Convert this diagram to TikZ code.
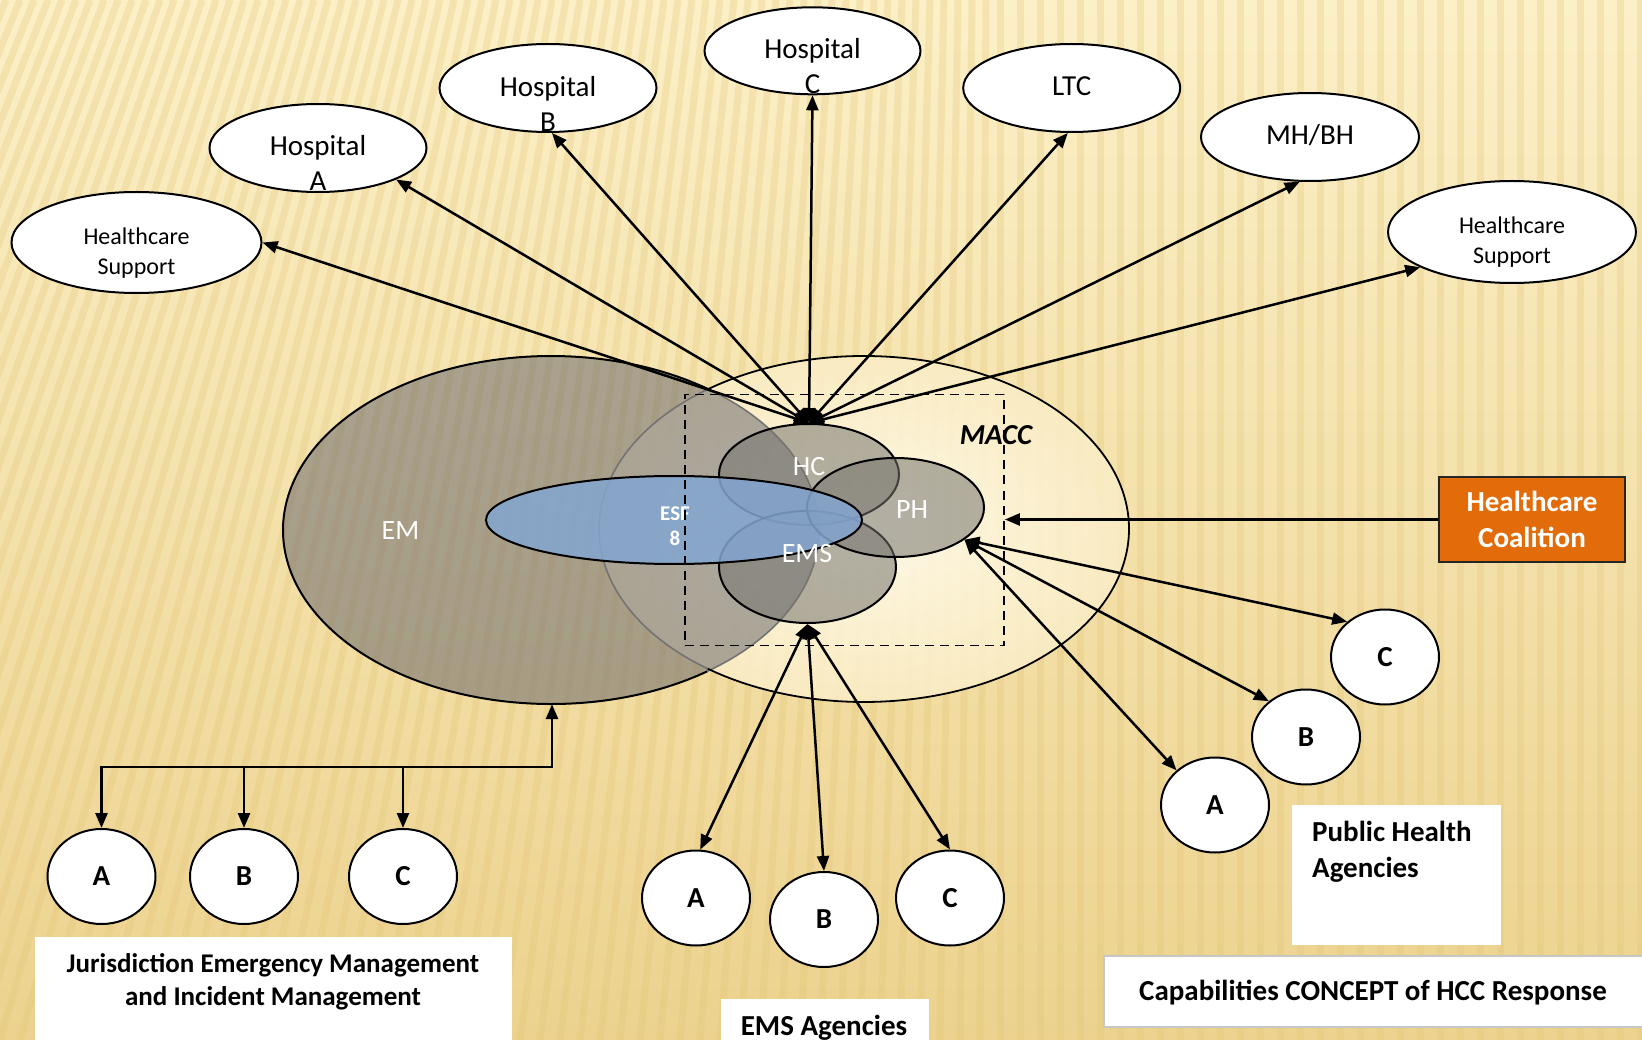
\documentclass[tikz,border=0pt]{standalone}
\usepackage{fontspec}
\setmainfont{Carlito}
\usetikzlibrary{arrows.meta,shapes.geometric}
\definecolor{bgtop}{RGB}{252,240,199}
\definecolor{bgbot}{RGB}{236,210,142}
\definecolor{stripecol}{RGB}{226,196,116}
\definecolor{emfill}{RGB}{100,100,108}
\definecolor{blobfill}{RGB}{118,116,110}
\definecolor{esfblue}{RGB}{131,166,209}
\definecolor{hccorange}{RGB}{227,108,10}
\definecolor{maccin}{RGB}{255,252,238}
\definecolor{maccout}{RGB}{250,236,196}
\newcommand{\fsz}[2]{\fontsize{#1}{#2}\selectfont}
\begin{document}
\begin{tikzpicture}[x=1pt,y=-1pt,
  >={Triangle[length=15pt,width=12pt]},
  arr/.style={line width=2.5pt,->},
  darr/.style={line width=2.5pt,<->},
  topell/.style={ellipse,draw,line width=2pt,fill=white,inner sep=0pt},
  agent/.style={ellipse,draw,line width=2pt,fill=white,inner sep=0pt,minimum width=108pt,minimum height=95pt,font=\fsz{29}{34}\bfseries},
  blob/.style={ellipse,draw,line width=2pt,fill=blobfill,fill opacity=0.55,inner sep=0pt},
  t29/.style={font=\fsz{29}{35.5},align=center,inner sep=0pt},
  t24/.style={font=\fsz{24}{30},align=center,inner sep=0pt},
  wlbl/.style={font=\fsz{28}{34},text=white,inner sep=0pt},
  bold29/.style={font=\fsz{29}{36}\bfseries,inner sep=0pt},
  whitebox/.style={fill=white,inner sep=0pt,draw=none}
]
\useasboundingbox (0,0) rectangle (1642,1040);
% background
\shade[top color=bgtop,bottom color=bgbot] (0,0) rectangle (1642,1040);
\begin{scope}
\clip (0,0) rectangle (1642,1040);
\foreach \b in {-700,-680,...,1660}{
  \pgfmathsetmacro{\tx}{\b+0.3*max(0,1000-\b)}
  \draw[stripecol,line width=7pt,opacity=0.28] (\b,1040) -- (\tx,0);
}
\end{scope}
% MACC and EM large ellipses
\shade[inner color=maccin,outer color=maccout,opacity=0.9] (864,529) ellipse [x radius=265,y radius=173];
\node[ellipse,fill=emfill,fill opacity=0.52,inner sep=0pt,minimum width=536pt,minimum height=348pt] (EM) at (551,530) {};
\draw[line width=2pt] (551,530) ++(54.3:268 and 174) arc[start angle=54.3,end angle=305.7,x radius=268,y radius=174];
\draw[line width=1.6pt,black!55] (551,530) ++(-54.3:268 and 174) arc[start angle=-54.3,end angle=54.3,x radius=268,y radius=174];
\draw[line width=1.8pt] (864,529) ++(-126.2:265 and 173) arc[start angle=-126.2,end angle=126.2,x radius=265,y radius=173];
\draw[line width=1.6pt,black!55] (864,529) ++(126.2:265 and 173) arc[start angle=126.2,end angle=233.8,x radius=265,y radius=173];
% inner ellipses
\node[blob,minimum width=180pt,minimum height=101pt] (HC) at (809,474.5) {};
\node[blob,minimum width=177pt,minimum height=112pt] (EMS) at (807.5,567) {};
\node[blob,minimum width=177pt,minimum height=99pt] (PH) at (895.5,507.5) {};
\node[ellipse,draw,line width=2pt,fill=esfblue,fill opacity=0.85,inner sep=0pt,minimum width=376pt,minimum height=88pt] (ESF) at (674,520) {};
% labels inside
\node[wlbl] (lEM) at (400.5,531) {EM};
\node[wlbl] (lHC) at (809,467) {HC};
\node[wlbl] (lPH) at (912,510) {PH};
\node[wlbl] (lEMS) at (807,554) {EMS};
\node[font=\fsz{21}{25}\bfseries,text=white,align=center,inner sep=0pt] (lESF) at (675,526) {ESF\\8};
\node[font=\fsz{29}{34}\bfseries\itshape,inner sep=0pt] (lMACC) at (996,435) {MACC};
% dashed MACC box
\node[draw,dash pattern=on 9pt off 6pt,line width=1.8pt,inner sep=0pt,minimum width=319pt,minimum height=251pt] (maccBox) at (844.5,520) {};
% top ellipses
\node[topell,minimum width=250pt,minimum height=101pt] (HSL) at (136.5,242.5) {};
\node[topell,minimum width=217pt,minimum height=88pt] (HospA) at (318,148) {};
\node[topell,minimum width=217pt,minimum height=88pt] (HospB) at (548,88) {};
\node[topell,minimum width=216pt,minimum height=87pt] (HospC) at (812.5,50.8) {};
\node[topell,minimum width=217pt,minimum height=88pt] (LTC) at (1071.7,88) {};
\node[topell,minimum width=218pt,minimum height=88pt] (MHBH) at (1310,137) {};
\node[topell,minimum width=248pt,minimum height=102pt] (HSR) at (1512,232) {};
\node[t24] (tHSL) at (136.5,253) {Healthcare\\Support};
\node[t29] (tHospA) at (318,163) {Hospital\\A};
\node[t29] (tHospB) at (548,104) {Hospital\\B};
\node[t29] (tHospC) at (812.5,66) {Hospital\\C};
\node[t29] (tLTC) at (1071.7,86) {LTC};
\node[t29] (tMHBH) at (1310,135) {MH/BH};
\node[t24] (tHSR) at (1512,242) {Healthcare\\Support};
% hub arrows
\coordinate (hub) at (HC.north);
\draw[darr] (hub) -- (HSL.east);
\draw[darr] (hub) -- (HospA.338);
\draw[darr] (hub) -- (HospB.275);
\draw[darr] (hub) -- (HospC.south);
\draw[darr] (hub) -- (LTC.265);
\draw[darr] (hub) -- (MHBH.257);
\draw[darr] (hub) -- (HSR.201);
% agencies
\node[agent] (EMA) at (101.5,876.5) {A};
\node[agent] (EMB) at (244,876.5) {B};
\node[agent] (EMC) at (403,876.5) {C};
\node[agent] (EMSA) at (696,898) {A};
\node[agent] (EMSB) at (824,919.5) {B};
\node[agent] (EMSC) at (950,898) {C};
\node[agent] (PHC) at (1385,657) {C};
\node[agent] (PHB) at (1306,737) {B};
\node[agent] (PHA) at (1215,805) {A};
% EM bus
\coordinate (bus) at (552,767);
\draw[darr,line width=2.8pt] (EMA.north) |- (bus) -- (EM.south -| bus);
\draw[arr] (EMB.north |- bus) -- (EMB.north);
\draw[arr] (EMC.north |- bus) -- (EMC.north);
% EMS arrows
\draw[darr] (EMS.south) -- (EMSA.85);
\draw[darr] (EMS.south) -- (EMSB.north);
\draw[darr] (EMS.south) -- (EMSC.north);
% PH arrows
\draw[darr] (PH.335) -- (PHC.137);
\draw[darr] (PH.335) -- (PHB.136);
\draw[darr] (PH.335) -- (PHA.138);
% Healthcare coalition
\node[draw=black!85,line width=2pt,fill=hccorange,minimum width=186pt,minimum height=85pt,text=white,align=center,font=\fsz{29}{36}\bfseries,inner sep=0pt] (HCC) at (1532,519.5) {\raisebox{-3pt}{Healthcare}\\\raisebox{-3pt}{Coalition}};
\draw[arr] (HCC.west) -- (HCC.west -| maccBox.east);
% text boxes
\node[whitebox,anchor=north west,minimum width=477pt,minimum height=110pt] (jemBox) at (35,937) {};
\node[font=\fsz{27}{33.5}\bfseries,align=center,inner sep=0pt] (jemTxt) at (273,982) {Jurisdiction Emergency Management\\and Incident Management};
\node[whitebox,anchor=north west,minimum width=208pt,minimum height=50pt] (emsBox) at (721,999) {};
\node[bold29] (emsTxt) at (824,1028) {EMS Agencies};
\node[whitebox,anchor=north west,minimum width=209pt,minimum height=140pt] (phBox) at (1292,805) {};
\node[bold29,align=left,anchor=west] (phTxt) at (1312,852) {Public Health\\Agencies};
\node[fill=white,draw=black!22,line width=2pt,anchor=north west,minimum width=560pt,minimum height=71pt,inner sep=0pt] (capBox) at (1103,955) {};
\node[bold29] (capTxt) at (1373,993) {Capabilities CONCEPT of HCC Response};
\end{tikzpicture}
\end{document}
